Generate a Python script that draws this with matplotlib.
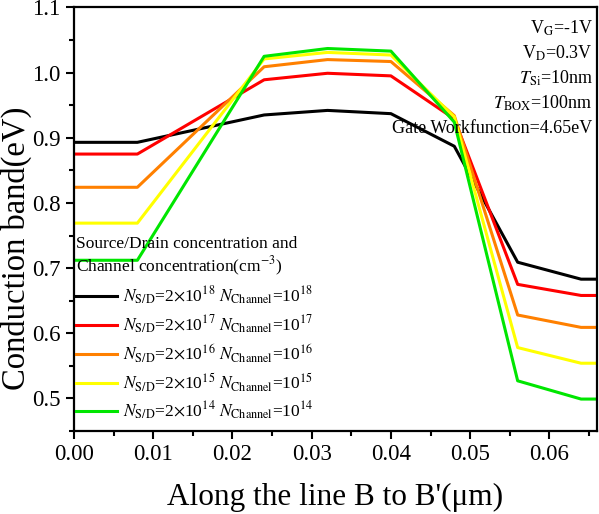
import numpy as np
import matplotlib
matplotlib.use('Agg')
import matplotlib.pyplot as plt
from matplotlib.ticker import MultipleLocator

plt.rcParams['font.family'] = ['Liberation Serif', 'DejaVu Serif']
plt.rcParams['mathtext.fontset'] = 'stix'

# datos
x = [0.0, 0.008, 0.024, 0.032, 0.040, 0.048, 0.056, 0.064, 0.066]
ec_1e18 = [0.893, 0.893, 0.935, 0.942, 0.937, 0.887, 0.709, 0.683, 0.683]
ec_1e17 = [0.875, 0.875, 0.989, 0.999, 0.995, 0.929, 0.675, 0.658, 0.658]
ec_1e16 = [0.824, 0.824, 1.009, 1.020, 1.017, 0.934, 0.628, 0.609, 0.609]
ec_1e15 = [0.769, 0.769, 1.021, 1.031, 1.027, 0.932, 0.578, 0.554, 0.554]
ec_1e14 = [0.712, 0.712, 1.025, 1.037, 1.033, 0.924, 0.527, 0.499, 0.499]

series = [ec_1e18, ec_1e17, ec_1e16, ec_1e15, ec_1e14]
exponents = [18, 17, 16, 15, 14]
colors = ['#000000', '#ff0000', '#ff8000', '#ffff00', '#00e600']

params = [r'V$_{\mathrm{G}}$=-1V', r'V$_{\mathrm{D}}$=0.3V', r'$T_{\mathrm{Si}}$=10nm',
          r'$T_{\mathrm{BOX}}$=100nm', 'Gate Workfunction=4.65eV']

fig = plt.figure(figsize=(5.99, 5.14), dpi=100)
ax = fig.add_axes([0.1235, 0.1615, 0.873, 0.824])

for ys, e, c in zip(series, exponents, colors):
    lbl = (r'$N_{\mathrm{S/D}}$=2$\times$10$^{%d}$ $N_{\mathrm{Channel}}$=10$^{%d}$' % (e, e))
    ax.plot(x, ys, color=c, lw=2.2, label=lbl)

ax.set_xlim(0, 0.066)
ax.set_ylim(0.45, 1.1)
ax.xaxis.set_major_locator(MultipleLocator(0.01))
ax.xaxis.set_minor_locator(MultipleLocator(0.005))
ax.yaxis.set_major_locator(MultipleLocator(0.1))
ax.yaxis.set_minor_locator(MultipleLocator(0.05))
ax.xaxis.set_major_formatter(matplotlib.ticker.FormatStrFormatter('%.2f'))
ax.yaxis.set_major_formatter(matplotlib.ticker.FormatStrFormatter('%.1f'))
ax.tick_params(which='both', direction='out', top=False, right=False, width=1.5)
ax.tick_params(which='major', length=6, labelsize=16.5)
ax.tick_params(which='minor', length=3.5)
for s in ax.spines.values():
    s.set_linewidth(1.6)

ax.set_xlabel("Along the line B to B'(μm)", fontsize=22.5, labelpad=13)
ax.set_ylabel('Conduction band(eV)', fontsize=23.5)
ax.yaxis.set_label_coords(-0.081, 0.432)

# textos de parametros arriba a la derecha
ypos = [0.950, 0.892, 0.833, 0.774, 0.715]
for t, yy in zip(params, ypos):
    ax.text(0.992, yy, t, transform=ax.transAxes, ha='right', va='center', fontsize=13)

leg = ax.legend(loc='upper left', bbox_to_anchor=(0.0, 0.465), frameon=False,
                fontsize=12.5, title='Source/Drain concentration and\nChannel concentration(cm$^{-3}$)',
                title_fontsize=12.5, handlelength=2.4, handletextpad=0.3,
                labelspacing=0.37, borderpad=0, borderaxespad=0.1, alignment='left')

plt.savefig('out.png', dpi=100)
